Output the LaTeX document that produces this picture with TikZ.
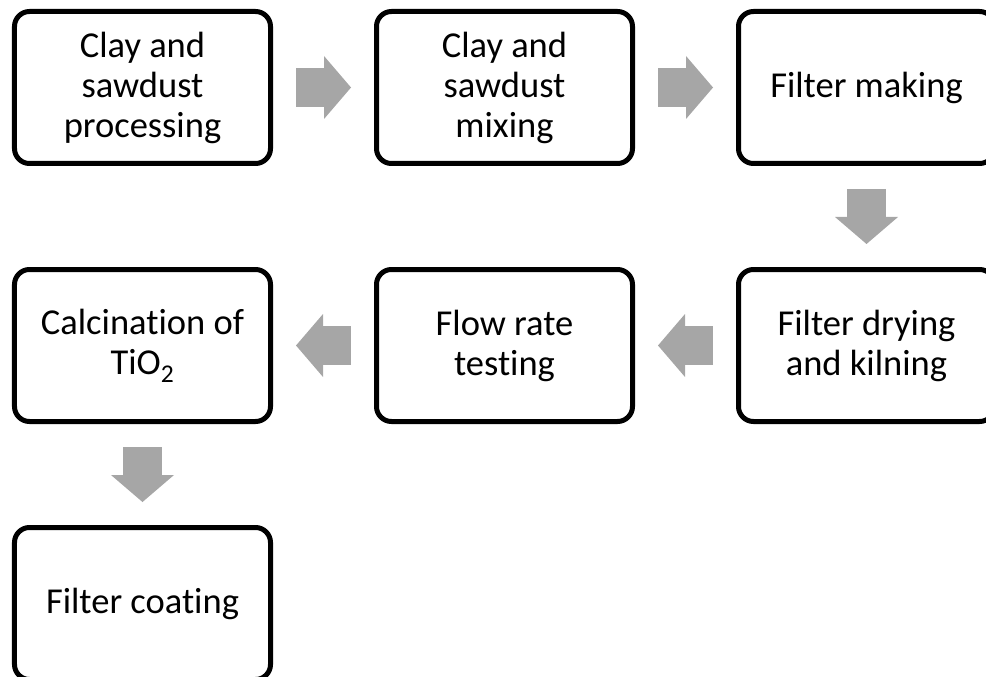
\documentclass[tikz,border=0pt]{standalone}
\usepackage{fontspec}
\setmainfont{Carlito}[Ligatures=NoCommon]
\usetikzlibrary{arrows.meta,positioning,calc}
\definecolor{stepgray}{HTML}{A6A6A6}
\tikzset{
  % steg
  stage/.style={rectangle,draw=black,fill=white,line width=5pt,rounded corners=15pt,
                minimum width=256pt,minimum height=152pt,inner sep=0pt,align=center,
                font=\fontsize{36.5}{40}\selectfont},
  % pilar
  blk/.style={draw=stepgray,line width=39pt,shorten <=23pt,shorten >=23pt,
              -{Triangle[length=27pt,width=63pt,line width=0pt]}},
}
\begin{document}
\begin{tikzpicture}[node distance=101pt]
\useasboundingbox (-142.5pt,87.5pt) rectangle (843.5pt,-589.5pt);
  \node[stage] (clay) at (0,0) {Clay and\\sawdust\\processing};
  \node[stage,right=of clay] (mix) {Clay and\\sawdust\\mixing};
  \node[stage,right=of mix] (make) {Filter making};
  \node[stage,below=of make] (dry) {Filter drying\\and kilning};
  \node[stage,left=of dry] (flow) {Flow rate\\testing};
  \node[stage,left=of flow] (tio) {Calcination of\\TiO\textsubscript{2}};
  \node[stage,below=of tio] (coat) {Filter coating};
  \draw[blk] (clay) -- (mix);
  \draw[blk] (mix) -- (make);
  \draw[blk] (make) -- (dry);
  \draw[blk] (dry) -- (flow);
  \draw[blk] (flow) -- (tio);
  \draw[blk] (tio) -- (coat);
\end{tikzpicture}
\end{document}
